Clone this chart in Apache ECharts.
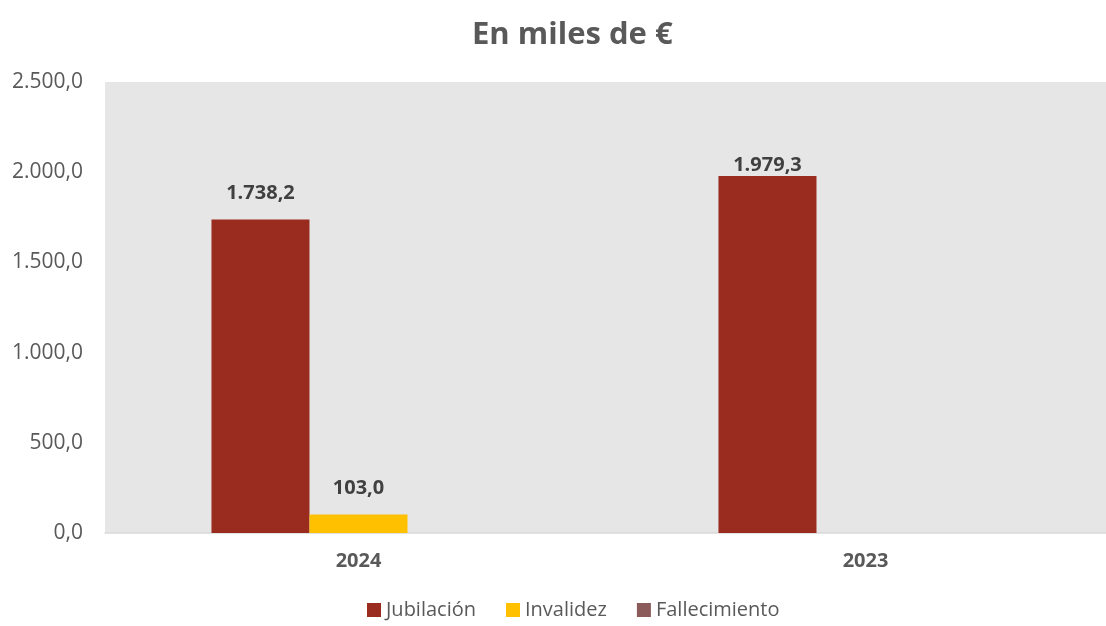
<!DOCTYPE html>
<html><head><meta charset="utf-8">
<script src="https://cdn.jsdelivr.net/npm/echarts@6/dist/echarts.min.js"></script>
<style>html,body{margin:0;padding:0;background:#fff}#c{width:1106px;height:626px}</style>
</head><body><div id="c"></div>
<script>
var categories = ['2024', '2023'];
var seriesNames = ['Jubilación', 'Invalidez', 'Fallecimiento'];
var jubilacion = [1738.2, 1979.3];
var invalidez = [103.0, 0];
var fallecimiento = [0, 0];
var yTicks = [0, 500, 1000, 1500, 2000, 2500];

var colors = ['#992B1F', '#FFC000', '#8B5B5B'];
var labelDist = [[16, 1], [16, 1], [1, 1]];
function fmt(v) {
  var s = v.toFixed(1).split('.');
  return s[0].replace(/\B(?=(\d{3})+(?!\d))/g, '.') + ',' + s[1];
}
var font = '"Open Sans", sans-serif';
var data = [jubilacion, invalidez, fallecimiento];
var series = data.map(function (arr, si) {
  return {
    name: seriesNames[si], type: 'bar', barGap: '0%', barCategoryGap: '42%',
    itemStyle: { color: colors[si] },
    data: arr.map(function (v, i) {
      return { value: v, label: { show: v > 0, distance: labelDist[si][i] } };
    }),
    label: { position: 'top', fontFamily: font, fontWeight: 'bold', fontSize: 20, color: '#404040',
      formatter: function (p) { return fmt(p.value); } }
  };
});
var chart = echarts.init(document.getElementById('c'));
chart.setOption({
  animation: false,
  title: { text: 'En miles de €', left: 467, top: 15,
    textStyle: { fontFamily: font, fontWeight: 'bold', fontSize: 31, color: '#595959' } },
  legend: { bottom: 1, left: 362, itemWidth: 14, itemHeight: 14, itemGap: 30, icon: 'rect',
    textStyle: { fontFamily: font, fontSize: 20, color: '#595959' } },
  grid: { left: 105, right: -13, top: 82, bottom: 93, outerBoundsMode: 'none', containLabel: false,
    show: true, backgroundColor: '#E7E6E6', borderWidth: 0 },
  xAxis: { type: 'category', data: categories,
    axisLine: { lineStyle: { color: '#D9D9D9', width: 1.5 } }, axisTick: { show: false },
    axisLabel: { fontFamily: font, fontWeight: 'bold', fontSize: 20, color: '#595959', margin: 18 } },
  yAxis: { type: 'value', min: yTicks[0], max: yTicks[yTicks.length - 1], interval: 500,
    splitLine: { show: false }, axisLine: { show: false }, axisTick: { show: false },
    axisLabel: { fontFamily: font, fontSize: 21, color: '#595959', margin: 22, formatter: fmt } },
  series: series
});
</script></body></html>
